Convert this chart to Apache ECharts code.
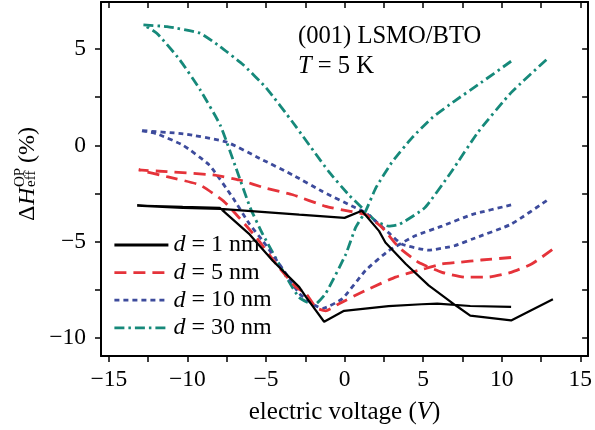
<!DOCTYPE html>
<html><head><meta charset="utf-8">
<script src="https://cdn.jsdelivr.net/npm/echarts@6/dist/echarts.min.js"></script>
<style>html,body{margin:0;padding:0;background:#fff}#c{width:595px;height:430px}</style>
</head><body><div id="c"></div>
<script>
// ---- data ----
const xTicks = [-15, -12.5, -10, -7.5, -5, -2.5, 0, 2.5, 5, 7.5, 10, 12.5, 15];
const xLabels = [-15, -10, -5, 0, 5, 10, 15];
const yTicks = [-10, -7.5, -5, -2.5, 0, 2.5, 5];
const yLabels = [-10, -5, 0, 5];
const seriesNames = ['d = 1 nm', 'd = 5 nm', 'd = 10 nm', 'd = 30 nm'];
const d1 = [[10.6,-8.4],[8.0,-8.35],[5.9,-8.23],[4.9,-8.26],[2.8,-8.36],[-0.03,-8.6],[-1.3,-9.17],[-2.46,-7.88],[-2.88,-7.37],[-4.57,-6.0],[-6.04,-4.63],[-7.94,-3.25],[-10.3,-3.2],[-13.2,-3.13],[-10.3,-3.25],[-7.9,-3.3],[-2.88,-3.6],[0,-3.77],[1.1,-3.4],[2.2,-4.46],[2.6,-5.05],[3.9,-6.17],[5.35,-7.28],[7.04,-8.3],[8.0,-8.85],[10.6,-9.1],[13.26,-8.0]];
const d5 = [[10.6,-5.83],[8.7,-5.96],[7.25,-6.08],[6.2,-6.17],[4.7,-6.5],[3.24,-6.85],[1.34,-7.54],[-0.35,-8.23],[-1.2,-8.6],[-1.8,-8.45],[-2.46,-7.7],[-3.1,-7.37],[-4.35,-6.17],[-5.6,-4.8],[-6.7,-3.77],[-7.7,-2.9],[-9.2,-2.06],[-11.3,-1.63],[-13.1,-1.28],[-11.3,-1.37],[-8.37,-1.54],[-6.7,-1.8],[-5.0,-2.23],[-3.3,-2.57],[-1.2,-3.17],[0.28,-3.42],[1.34,-3.6],[2.4,-4.28],[3.45,-5.3],[4.7,-6.08],[6.2,-6.6],[7.67,-6.85],[9.15,-6.85],[10.6,-6.6],[11.9,-6.17],[13.26,-5.4]];
const d10 = [[10.6,-3.1],[8.1,-3.6],[6.2,-4.2],[4.5,-4.7],[2.8,-5.48],[1.34,-6.5],[-0.14,-7.97],[-1.4,-8.48],[-1.93,-8.3],[-2.88,-7.7],[-3.7,-6.7],[-5.2,-4.97],[-6.04,-4.1],[-7.1,-2.74],[-8.6,-1.03],[-10.27,0],[-11.95,0.6],[-13.0,0.77],[-10.27,0.6],[-7.5,0.17],[-5.4,-0.68],[-3.3,-1.54],[-1.4,-2.4],[0.7,-3.25],[1.34,-3.5],[2.8,-4.54],[3.66,-5.14],[5.35,-5.45],[7.0,-5.22],[8.1,-4.88],[10.6,-4.1],[12.94,-2.83]];
const d30 = [[10.6,4.37],[8.5,3.15],[7.0,2.3],[5.6,1.45],[4.3,0.4],[3.0,-0.9],[2.0,-2.2],[1.34,-3.42],[0.7,-4.28],[0.08,-5.66],[-1.2,-7.7],[-1.93,-8.3],[-2.9,-7.9],[-3.7,-6.85],[-5.2,-4.63],[-6.0,-3.25],[-6.9,-1.2],[-7.9,1.03],[-9.2,2.9],[-10.5,4.46],[-11.95,5.83],[-12.8,6.26],[-11.3,6.17],[-9.2,5.83],[-7.94,5.14],[-6.47,4.2],[-5.0,3.0],[-3.3,1.2],[-1.0,-1.37],[0.3,-2.6],[1.34,-3.42],[2.0,-3.95],[2.8,-4.2],[3.5,-4.1],[5.1,-3.25],[6.8,-1.37],[8.5,0.69],[10.6,2.74],[12.9,4.49]];
const seriesData = [d1, d5, d10, d30];
const colors = ['#000000', '#e5333a', '#3d4b9c', '#16897a'];

// ---- chart ----
const FONT = "'Liberation Serif','Times New Roman',serif";
const fmt = v => v < 0 ? '\u2212' + (-v) : String(v);
const lineStyles = [
  {width: 2.2, type: 'solid'},
  {width: 2.8, type: [12, 7]},
  {width: 2.8, type: [5, 4]},
  {width: 2.8, type: [10, 4, 2.5, 4]}
];
const chart = echarts.init(document.getElementById('c'), null, {renderer: 'canvas'});
const axisCommon = {
  type: 'value',
  axisLine: {show: true, onZero: false, lineStyle: {color: '#000', width: 2}},
  splitLine: {show: false}
};
chart.setOption({
  animation: false,
  backgroundColor: '#fff',
  grid: {left: 101, right: 5, top: 2, bottom: 71, containLabel: false},
  xAxis: [
    Object.assign({}, axisCommon, {
      min: -15.5, max: 15.5, position: 'bottom',
      axisTick: {show: true, inside: false, length: 6, customValues: xTicks, lineStyle: {color: '#000', width: 1.5}},
      axisLabel: {show: true, customValues: xLabels, formatter: fmt, margin: 12, fontFamily: FONT, fontSize: 23.5, color: '#000'},
      name: '{n|electric voltage (}{i|V}{n|)}', nameLocation: 'middle', nameGap: 44,
      nameTextStyle: {rich: {
        n: {fontFamily: FONT, fontSize: 25, color: '#000'},
        i: {fontFamily: FONT, fontSize: 25, color: '#000', fontStyle: 'italic'}
      }}
    }),
    Object.assign({}, axisCommon, {
      min: -15.5, max: 15.5, position: 'top',
      axisTick: {show: true, inside: true, length: 6, customValues: xTicks, lineStyle: {color: '#000', width: 1.5}},
      axisLabel: {show: false}
    })
  ],
  yAxis: [
    Object.assign({}, axisCommon, {
      min: -10.95, max: 7.45, position: 'left',
      axisTick: {show: true, inside: false, length: 6, customValues: yTicks, lineStyle: {color: '#000', width: 1.5}},
      axisLabel: {show: true, customValues: yLabels, formatter: fmt, margin: 15, fontFamily: FONT, fontSize: 23.5, color: '#000'}
    }),
    Object.assign({}, axisCommon, {
      min: -10.95, max: 7.45, position: 'right',
      axisTick: {show: true, inside: true, length: 6, customValues: yTicks, lineStyle: {color: '#000', width: 1.5}},
      axisLabel: {show: false}
    })
  ],
  legend: {
    show: true, orient: 'vertical', left: 108, top: 228,
    itemWidth: 54, itemHeight: 20, itemGap: 3.6,
    data: seriesNames,
    itemStyle: {color: 'rgba(0,0,0,0)', borderColor: 'rgba(0,0,0,0)', borderWidth: 0, opacity: 0},
    lineStyle: {width: 2.8},
    formatter: name => '{i|d}{n|' + name.slice(1) + '}',
    textStyle: {fontFamily: FONT, fontSize: 24, color: '#000', lineHeight: 20, rich: {
      i: {fontFamily: FONT, fontSize: 24, color: '#000', fontStyle: 'italic', lineHeight: 20},
      n: {fontFamily: FONT, fontSize: 24, color: '#000', lineHeight: 20}
    }}
  },
  series: seriesNames.map((nm, i) => ({
    name: nm, type: 'line', xAxisIndex: 0, yAxisIndex: 0,
    data: seriesData[i], symbol: 'none', smooth: i === 0 ? false : 0.15,
    color: colors[i],
    lineStyle: Object.assign({color: colors[i]}, lineStyles[i]),
    z: 10 - i
  })),
  graphic: [
    {type: 'text', left: 298, top: 24, style: {text: '(001) LSMO/BTO', font: '24.6px ' + FONT, fill: '#000'}},
    {type: 'text', left: 298, top: 54, style: {text: '{i|T}{n| = 5 K}', fill: '#000', rich: {
      i: {fontFamily: FONT, fontSize: 24.6, fontStyle: 'italic'},
      n: {fontFamily: FONT, fontSize: 24.6}
    }}},
    {type: 'group', x: 27.5, y: 178, rotation: Math.PI / 2, children: [
      {type: 'text', x: -43, y: 0, style: {text: '\u0394', font: '24px ' + FONT, fill: '#000', textAlign: 'left', textVerticalAlign: 'middle'}},
      {type: 'text', x: -27, y: 0, style: {text: 'H', font: 'italic 24px ' + FONT, fill: '#000', textAlign: 'left', textVerticalAlign: 'middle'}},
      {type: 'text', x: -9, y: -7.5, style: {text: 'OP', font: '15px ' + FONT, fill: '#000', textAlign: 'left', textVerticalAlign: 'middle'}},
      {type: 'text', x: -9, y: 4, style: {text: 'eff', font: '15px ' + FONT, fill: '#000', textAlign: 'left', textVerticalAlign: 'middle'}},
      {type: 'text', x: 15, y: 0, style: {text: '(%)', font: '24px ' + FONT, fill: '#000', textAlign: 'left', textVerticalAlign: 'middle'}}
    ]}
  ]
});
</script></body></html>
